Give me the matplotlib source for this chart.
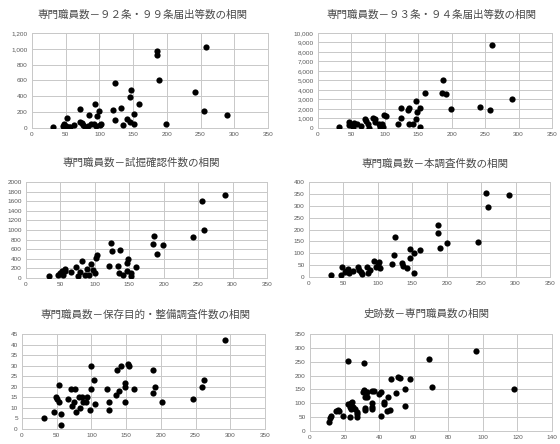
import numpy as np
import matplotlib
matplotlib.use('Agg')
import matplotlib.pyplot as plt
from matplotlib.ticker import FuncFormatter

plt.rcParams['font.family'] = ['Liberation Sans', 'DejaVu Sans']

# ---------------------------------------------------------------
# data
titles = ['専門職員数－９２条・９９条届出等数の相関',
          '専門職員数－９３条・９４条届出等数の相関',
          '専門職員数－試掘確認件数の相関',
          '専門職員数－本調査件数の相関',
          '専門職員数－保存目的・整備調査件数の相関',
          '史跡数－専門職員数の相関']

x1 = [31, 46, 47, 48, 50, 52, 55, 57, 63, 71, 71, 74, 76, 79, 83, 85, 88, 92, 93, 95,
      97, 100, 101, 103, 120, 123, 123, 132, 135, 141, 145, 146, 147, 151, 152, 159, 185, 185, 189, 198,
      242, 255, 258, 289]
y1 = [8, 30, 10, 55, 20, 123, 10, 13, 34, 237, 76, 64, 34, 15, 25, 161, 47, 47, 297, 30,
      148, 220, 34, 47, 225, 572, 97, 258, 34, 119, 76, 394, 479, 174, 55, 301, 975, 920, 602, 55,
      449, 216, 1021, 165]

x2 = [32, 47, 47, 51, 52, 54, 58, 64, 70, 72, 75, 76, 83, 85, 86, 91, 93, 96, 97, 99,
      102, 120, 124, 124, 134, 136, 136, 142, 146, 147, 148, 152, 153, 160, 186, 187, 191, 199, 243, 257,
      260, 290]
y2 = [100, 640, 280, 280, 100, 530, 460, 210, 990, 740, 460, 30, 1100, 640, 990, 460, 100, 390, 70, 1410,
      1310, 460, 1100, 2080, 1870, 2120, 420, 420, 2790, 990, 1700, 2080, 70, 3640, 3710, 5050, 3570, 1980, 2160, 1870,
      8760, 3000]

x3 = [33, 47, 50, 52, 54, 56, 57, 65, 72, 76, 79, 82, 85, 88, 92, 94, 97, 100, 101, 103,
      121, 124, 125, 134, 135, 137, 141, 147, 147, 148, 152, 153, 160, 185, 186, 190, 199, 243, 256, 259,
      289]
y3 = [50, 70, 105, 140, 70, 150, 195, 120, 230, 50, 120, 360, 70, 190, 70, 300, 175, 100, 420, 475,
      245, 725, 570, 245, 105, 580, 70, 150, 315, 400, 105, 40, 230, 700, 880, 490, 685, 845, 1600, 1000,
      1720]

x4 = [32, 47, 48, 52, 54, 56, 58, 64, 71, 72, 75, 77, 84, 86, 88, 95, 97, 100, 102, 103,
      121, 124, 125, 135, 137, 142, 147, 147, 152, 153, 161, 187, 188, 190, 200, 245, 257, 260, 290]
y4 = [8, 10, 41, 20, 25, 32, 17, 25, 44, 31, 23, 13, 41, 18, 30, 68, 44, 51, 62, 37,
      55, 93, 170, 58, 48, 37, 79, 120, 103, 18, 114, 221, 187, 124, 145, 148, 354, 293, 346]

x5 = [32, 46, 49, 51, 53, 54, 56, 56, 66, 71, 72, 75, 76, 78, 82, 84, 87, 88, 92, 94,
      98, 99, 100, 103, 105, 122, 125, 126, 135, 137, 139, 143, 148, 148, 149, 153, 154, 162, 188, 189,
      192, 201, 246, 259, 262, 292]
y5 = [5, 8, 15, 14, 21, 13, 7, 2, 14, 19, 11, 13, 19, 8, 15, 10, 15, 13, 13, 15,
      9, 19, 30, 23, 12, 19, 13, 9, 16, 28, 18, 30, 22, 20, 13, 31, 30, 19, 28, 17,
      20, 13, 14, 20, 23, 42]

x6 = [11, 11.5, 12, 15, 16, 17, 19, 22, 22, 23, 23, 24, 24, 24.5, 25, 26, 27, 27, 27, 31,
      30.5, 31.5, 32, 32, 32, 33, 33, 36, 37, 36, 36, 36, 40, 41, 41, 43, 43, 44.5, 45, 46,
      47, 50, 51, 52, 55, 55, 58, 69, 70.5, 96, 118]
y6 = [32, 47, 54, 72, 75, 73, 55, 254, 96, 88, 50, 100, 81, 104, 86, 81, 60, 50, 70, 244,
      142, 148, 122, 83, 77, 121, 142, 146, 146, 88, 80, 100, 134, 141, 55, 97, 105, 72, 124, 77,
      187, 136, 196, 190, 152, 92, 187, 258, 158, 288, 150]

xs = [x1, x2, x3, x4, x5, x6]
ys = [y1, y2, y3, y4, y5, y6]
xlims = [(0, 350, 50)] * 5 + [(0, 140, 20)]
ylims = [(0, 1200, 200), (0, 10000, 1000), (0, 2000, 200), (0, 400, 50), (0, 45, 5), (0, 350, 50)]
comma = [True, True, False, False, False, False]

# ---------------------------------------------------------------
# layout in pixels: plot box (left, top, right, bottom) and title centre
W, H = 560, 444
boxes = [(32, 33, 268, 128), (318, 33, 552, 128),
         (26, 182, 267, 278), (309, 182, 550, 277),
         (22, 334, 265, 429), (310, 334, 552, 431)]
title_pos = [(142, 15), (431, 15), (141, 163), (435, 164), (145, 315), (427, 314)]

fig = plt.figure(figsize=(W / 100, H / 100), dpi=100)
fig.patch.set_facecolor('white')

for i in range(6):
    l, t, r, b = boxes[i]
    ax = fig.add_axes([l / W, 1 - b / H, (r - l) / W, (b - t) / H])
    ax.scatter(xs[i], ys[i], s=20, color='black', zorder=3, linewidths=0)
    x0, x1_, xst = xlims[i]
    y0, y1_, yst = ylims[i]
    ax.set_xlim(x0, x1_)
    ax.set_ylim(y0, y1_)
    ax.set_xticks(np.arange(x0, x1_ + xst, xst))
    ax.set_yticks(np.arange(y0, y1_ + yst, yst))
    if comma[i]:
        ax.yaxis.set_major_formatter(FuncFormatter(lambda v, p: '{:,}'.format(int(v))))
    ax.grid(True, color='#c8c8c8', linewidth=0.7, zorder=0)
    for sp in ax.spines.values():
        sp.set_color('#c8c8c8')
        sp.set_linewidth(0.7)
    ax.tick_params(length=0, labelsize=4.6, colors='#595959', pad=3)
    fig.text(title_pos[i][0] / W, 1 - title_pos[i][1] / H, titles[i],
             ha='center', va='center', fontsize=7.6, color='#4a4a4a',
             family=['Noto Sans CJK JP', 'DejaVu Sans'])

fig.savefig('out.png', dpi=100, facecolor='white')
